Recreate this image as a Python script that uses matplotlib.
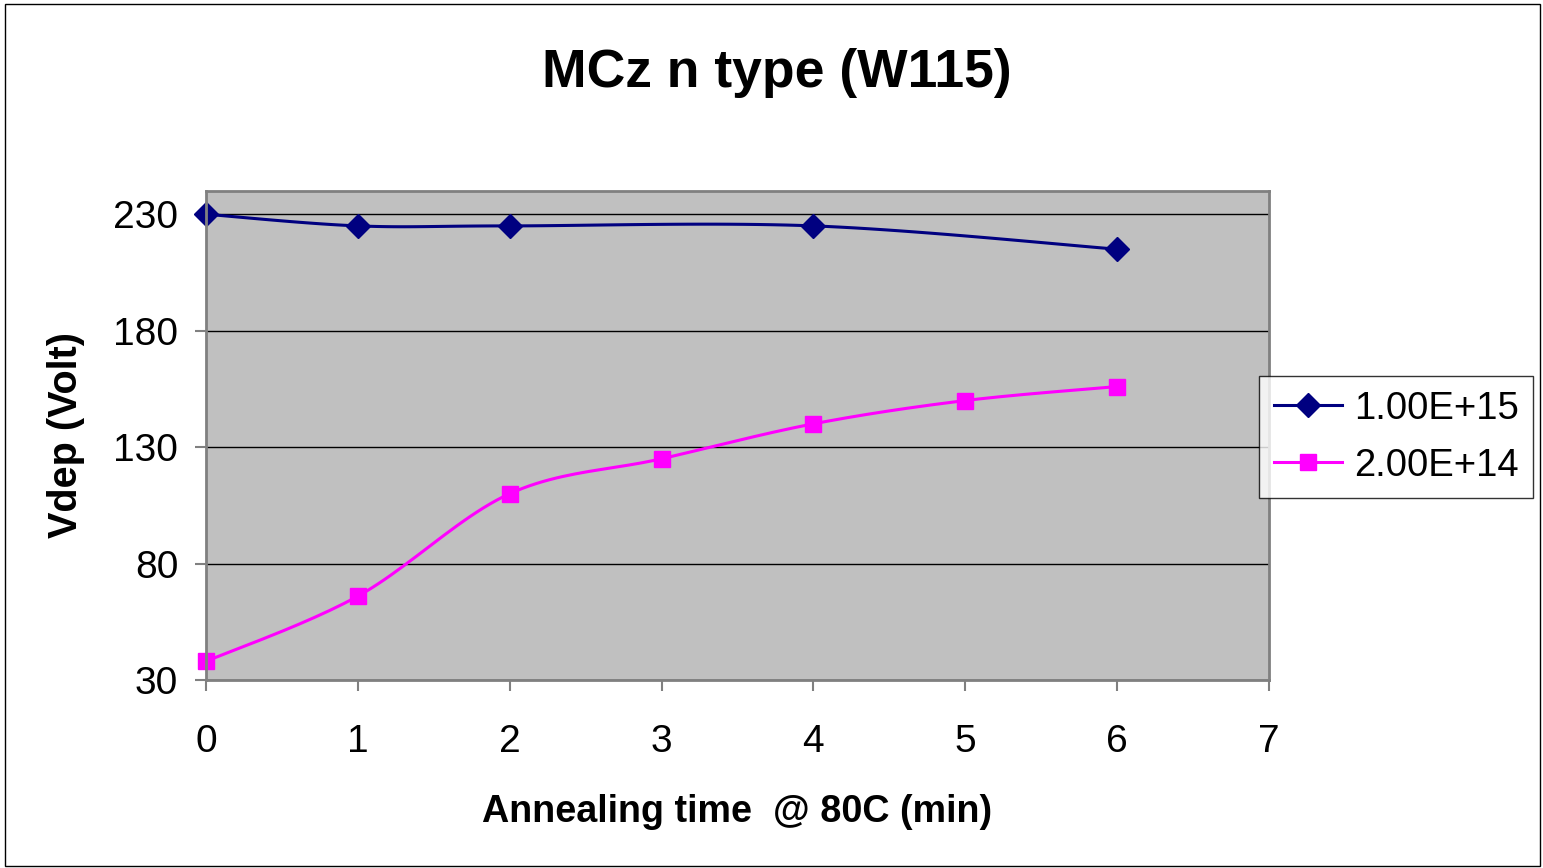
import numpy as np
import matplotlib.pyplot as plt
from matplotlib.patches import Rectangle

plt.rcParams['font.family'] = ['Liberation Sans', 'DejaVu Sans']

# data
t_hi = [0, 1, 2, 4, 6]
v_hi = [230, 225, 225, 225, 215]
t_lo = [0, 1, 2, 3, 4, 5, 6]
v_lo = [38, 66, 110, 125, 140, 150, 156]
labels = ["1.00E+15", "2.00E+14"]


def excel_smooth(ax, xs, ys, n=24):
    # Bezier smoothing like Excel, done in display coordinates
    pts = ax.transData.transform(np.column_stack([xs, ys]))
    pts = np.vstack([pts[0], pts, pts[-1]])
    out = [pts[1]]
    tt = np.linspace(0, 1, n)[1:, None]
    for i in range(1, len(pts) - 2):
        p0, p1 = pts[i], pts[i + 1]
        c1 = p0 + (pts[i + 1] - pts[i - 1]) / 6
        c2 = p1 - (pts[i + 2] - pts[i]) / 6
        seg = ((1 - tt) ** 3) * p0 + 3 * ((1 - tt) ** 2) * tt * c1 \
            + 3 * (1 - tt) * tt ** 2 * c2 + tt ** 3 * p1
        out.extend(seg)
    out = ax.transData.inverted().transform(np.array(out))
    return out[:, 0], out[:, 1]


fig = plt.figure(figsize=(15.43, 8.68), dpi=100)
fig.patches.append(Rectangle((0.003, 0.002), 0.995, 0.993, transform=fig.transFigure,
                             fill=False, edgecolor='black', linewidth=1))
ax = fig.add_axes([0.1335, 0.2166, 0.6889, 0.5634])
ax.set_facecolor('#C0C0C0')
ax.set_xlim(0, 7)
ax.set_ylim(30, 240)
ax.set_xticks(range(8))
ax.set_yticks([30, 80, 130, 180, 230])
ax.grid(axis='y', color='black', linewidth=1)
ax.set_axisbelow(True)
for s in ax.spines.values():
    s.set_color('#808080')
    s.set_linewidth(2)
ax.tick_params(direction='out', length=8, width=1.5, color='#808080',
               labelsize=28, pad=12)
ax.tick_params(axis='x', pad=24)

fig.canvas.draw()
xs, ys = excel_smooth(ax, t_hi, v_hi)
ax.plot(xs, ys, color='#000080', linewidth=2.2, clip_on=False)
ax.plot(t_hi, v_hi, 'D', color='#000080', markersize=12, clip_on=False)
xs, ys = excel_smooth(ax, t_lo, v_lo)
ax.plot(xs, ys, color='#FF00FF', linewidth=2.2, clip_on=False)
ax.plot(t_lo, v_lo, 's', color='#FF00FF', markersize=11, clip_on=False)

h1, = ax.plot([], [], '-D', color='#000080', linewidth=2.2, markersize=12)
h2, = ax.plot([], [], '-s', color='#FF00FF', linewidth=2.2, markersize=11)
leg = fig.legend([h1, h2], labels, loc='upper left', bbox_to_anchor=(1259 / 1543, 1 - 376 / 868),
                 fontsize=27.5, frameon=True, fancybox=False, edgecolor='black',
                 borderpad=0.38, handlelength=1.8, labelspacing=0.55, handletextpad=0.3,
                 borderaxespad=0)
leg.get_frame().set_linewidth(1)

fig.suptitle("MCz n type (W115)", x=0.5035, y=0.945, fontsize=38.5, fontweight='bold')
ax.set_xlabel("Annealing time  @ 80C (min)", fontsize=27.2, fontweight='bold', labelpad=24)
ax.set_ylabel("Vdep (Volt)", fontsize=28.5, fontweight='bold', labelpad=20)

fig.savefig('out.png', dpi=100)
